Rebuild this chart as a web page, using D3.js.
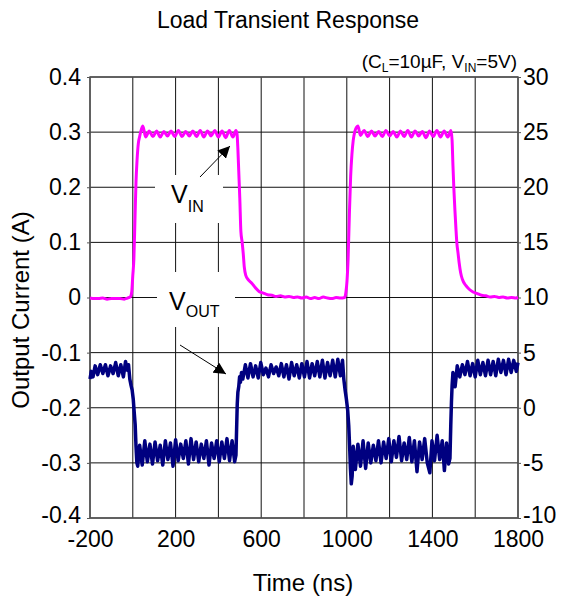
<!DOCTYPE html>
<html><head><meta charset="utf-8">
<script src="https://cdn.jsdelivr.net/npm/d3@7/dist/d3.min.js"></script>
<style>body{margin:0;background:#fff}svg{display:block}text{font-family:"Liberation Sans",Arial,sans-serif;fill:#000}</style>
</head><body><svg id="c" width="561" height="602"></svg>
<script>
const title = "Load Transient Response";
const xLabel = "Time (ns)";
const yLabel = "Output Current (A)";
const xTicks = [-200, 200, 600, 1000, 1400, 1800];
const xGrid = [-200, 0, 200, 400, 600, 800, 1000, 1200, 1400, 1600, 1800];
const yLeftTicks = [-0.4, -0.3, -0.2, -0.1, 0, 0.1, 0.2, 0.3, 0.4];
const yRightTicks = [-10, -5, 0, 5, 10, 15, 20, 25, 30];

// magenta trace, left axis units (A)
const vinTrace = [
[-200,-0.001],[-180,-0.002],[-160,-0.002],[-140,-0.001],[-120,-0.003],[-100,-0.002],[-80,-0.002],[-60,-0.002],[-40,-0.003],[-25,-0.001],[-12,0.001],
[-5,0.01],[0,0.04],[5,0.07],[10,0.14],[15,0.21],[20,0.25],[26,0.28],[32,0.292],[40,0.305],[47,0.311],
[60,0.291],[77,0.302],[94,0.292],[111,0.302],[128,0.291],[145,0.301],[162,0.293],[179,0.302],[196,0.292],[213,0.303],[230,0.292],[247,0.301],[264,0.293],[281,0.302],[298,0.292],[315,0.303],[332,0.291],[349,0.302],[366,0.293],[383,0.303],[400,0.291],[417,0.302],[434,0.290],[451,0.303],[468,0.291],[482,0.303],
[487,0.297],[491,0.27],[495,0.23],[500,0.18],[505,0.12],[511,0.1],[516,0.08],[521,0.055],[528,0.04],[540,0.032],[556,0.026],[572,0.018],[590,0.011],[610,0.008],[630,0.005],[650,0.004],[670,0.002],[690,0.003],[710,0.001],
[730,0.002],[750,0.000],[770,0.001],[790,-0.001],[810,0.001],[830,-0.002],[850,0.000],[870,-0.002],[890,0.001],[910,-0.001],[930,-0.002],[950,0.000],[970,-0.001],[990,0.000],
[996,0.01],[1001,0.03],[1006,0.07],[1012,0.15],[1018,0.22],[1024,0.26],[1030,0.285],[1038,0.302],[1046,0.309],[1052,0.311],
[1064,0.294],[1081,0.303],[1098,0.292],[1115,0.302],[1132,0.293],[1149,0.301],[1166,0.292],[1183,0.303],[1200,0.293],[1217,0.301],[1234,0.291],[1251,0.302],[1268,0.292],[1285,0.303],[1302,0.291],[1319,0.302],[1336,0.293],[1353,0.301],[1370,0.290],[1387,0.302],[1404,0.292],[1421,0.303],[1438,0.291],[1455,0.302],[1472,0.291],[1487,0.303],
[1492,0.285],[1496,0.24],[1500,0.2],[1505,0.16],[1510,0.125],[1514,0.1],[1520,0.08],[1525,0.063],[1532,0.045],[1540,0.033],[1556,0.022],[1572,0.015],[1590,0.01],[1610,0.007],[1630,0.004],[1650,0.003],[1670,0.001],[1690,0.002],[1710,0.000],[1730,0.001],[1750,-0.001],[1770,0.000],[1790,-0.001],[1800,0.000]
];

// navy trace, right axis units
const voutTrace = [
[-200,2.6],[-194,3.3],[-186,2.8],[-176,3.8],[-164,3.0],[-152,3.9],[-140,3.1],[-128,3.9],[-116,2.9],[-104,3.8],[-92,3.1],[-80,4.1],[-68,2.9],[-56,3.9],[-44,2.8],[-34,4.2],[-26,3.4],[-20,3.9],[-14,2.6],[-8,2.0],[-3,1.6],[2,0.8],[7,-0.5],[11,-1.5],[15,-3.5],[19,-5.0],[23,-5.3],
[32,-3.4],[44,-5.2],[56,-3.0],[68,-4.9],[80,-3.3],[92,-5.1],[104,-3.1],[116,-4.8],[128,-3.4],[140,-5.2],[152,-3.0],[164,-4.7],[176,-3.2],[188,-5.3],[200,-2.9],[212,-4.8],[224,-3.3],[236,-4.6],[248,-3.0],[260,-5.1],[272,-2.8],[284,-4.7],[296,-3.1],[308,-4.9],[320,-3.3],[332,-4.6],[344,-3.0],[356,-5.2],[368,-3.2],[380,-4.6],[392,-3.0],[404,-4.9],[416,-3.1],[428,-4.6],[440,-2.8],[452,-4.8],[464,-3.0],[476,-4.9],
[482,-4.3],[485,-2.0],[488,0.3],[491,1.4],[495,1.9],[499,2.8],[503,2.3],[508,3.2],
[514,2.6],[526,3.9],[538,2.7],[550,4.0],[562,2.8],[574,3.8],[586,2.7],[598,4.1],[610,3.0],[622,3.6],[634,2.8],[646,3.9],[658,3.1],[670,3.7],[682,2.9],[694,4.0],[706,2.8],[718,3.9],[730,2.6],[742,4.1],[754,2.9],[766,3.9],[778,2.7],[790,4.0],[802,2.8],[814,4.2],[826,2.7],[838,4.0],[850,2.9],[862,4.2],[874,2.8],[886,4.3],[898,2.7],[910,4.1],[922,2.9],[934,4.3],[946,2.8],[958,4.4],[970,2.9],[980,4.3],
[986,2.6],[992,1.6],[998,0.8],[1004,-0.2],[1009,-1.6],[1013,-3.4],[1017,-5.5],[1021,-6.9],[1025,-6.2],[1030,-3.5],
[1040,-5.6],[1052,-3.3],[1064,-5.3],[1076,-3.0],[1088,-5.5],[1100,-3.2],[1112,-5.0],[1124,-3.4],[1136,-4.8],[1148,-3.0],[1160,-5.0],[1172,-3.1],[1184,-4.6],[1196,-2.8],[1208,-4.9],[1220,-3.0],[1232,-4.5],[1244,-2.6],[1256,-4.8],[1268,-3.2],[1280,-4.7],[1292,-2.7],[1304,-4.9],[1316,-3.0],[1328,-5.8],[1340,-3.1],[1352,-4.7],[1364,-2.8],[1376,-5.0],[1388,-5.9],[1398,-3.0],[1410,-4.8],[1422,-2.5],[1434,-4.7],[1446,-3.0],[1456,-5.7],[1466,-3.2],[1476,-5.1],
[1482,-4.6],[1486,-1.5],[1489,0.5],[1492,2.0],[1496,3.2],[1501,2.6],[1506,1.9],[1511,2.8],[1516,3.8],
[1528,2.8],[1540,3.9],[1552,3.0],[1564,4.2],[1576,2.9],[1588,4.0],[1600,2.8],[1612,4.3],[1624,3.0],[1636,4.1],[1648,2.9],[1660,4.3],[1672,3.0],[1684,4.2],[1696,2.9],[1708,4.4],[1720,3.2],[1732,4.3],[1744,3.0],[1756,4.4],[1768,3.2],[1780,4.3],[1792,3.3],[1800,4.1]
];

const svg = d3.select("#c");
const L = 90, R = 518, T = 77, B = 518;
const x = d3.scaleLinear([-200, 1800], [L, R]);
const yL = d3.scaleLinear([-0.4, 0.4], [B, T]);
const yR = d3.scaleLinear([-10, 30], [B, T]);
const fmtL = d => d === 0 ? "0" : d3.format(".1f")(d).replace("\u2212", "-");
const fmtN = d => String(d);

// grid
const g = svg.append("g");
g.selectAll(".vg").data(xGrid).join("line").attr("x1", d => x(d)).attr("x2", d => x(d)).attr("y1", T).attr("y2", B).attr("stroke", "#111").attr("stroke-width", 1);
g.selectAll(".hg").data(yLeftTicks).join("line").attr("x1", L).attr("x2", R).attr("y1", d => yL(d)).attr("y2", d => yL(d)).attr("stroke", "#111").attr("stroke-width", 1);
svg.append("rect").attr("x", L).attr("y", T).attr("width", R - L).attr("height", B - T).attr("fill", "none").attr("stroke", "#555").attr("stroke-width", 1.5);

// white boxes behind annotation labels
svg.append("rect").attr("x", 155).attr("y", 175).attr("width", 68).attr("height", 48).attr("fill", "#fff");
svg.append("rect").attr("x", 157).attr("y", 272).attr("width", 78).attr("height", 55).attr("fill", "#fff");

// axes
const axL = svg.append("g").attr("transform", `translate(${L},0)`).call(d3.axisLeft(yL).tickValues(yLeftTicks).tickFormat(fmtL).tickSize(3).tickPadding(6));
const axR = svg.append("g").attr("transform", `translate(${R},0)`).call(d3.axisRight(yR).tickValues(yRightTicks).tickFormat(fmtN).tickSize(3).tickPadding(2));
const axB = svg.append("g").attr("transform", `translate(0,${B})`).call(d3.axisBottom(x).tickValues(xTicks).tickFormat(fmtN).tickSize(0).tickPadding(6));
[axL, axR, axB].forEach(a => {
  a.select(".domain").remove();
  a.selectAll("text").attr("font-size", 23).attr("font-family", "Liberation Sans, Arial, sans-serif").attr("fill", "#000");
  a.selectAll("line").attr("stroke", "#555");
});
axB.selectAll("text").attr("dy", "1.0em");
axR.selectAll("text").filter(d => d === -10).attr("dy", "0.2em");
axL.selectAll("text").filter(d => d === -0.4).attr("dy", "0.2em");

// traces
const lineL = d3.line().x(d => x(d[0])).y(d => yL(d[1])).curve(d3.curveMonotoneX);
const lineR = d3.line().x(d => x(d[0])).y(d => yR(d[1]));
svg.append("path").attr("d", lineL(vinTrace)).attr("fill", "none").attr("stroke", "#FF00FF").attr("stroke-width", 3).attr("stroke-linejoin", "round");
svg.append("path").attr("d", lineR(voutTrace)).attr("fill", "none").attr("stroke", "#000080").attr("stroke-width", 3.5).attr("stroke-linejoin", "round");

// annotations
svg.append("defs").append("marker").attr("id", "ah").attr("viewBox", "0 0 10 10").attr("refX", 10).attr("refY", 5)
  .attr("markerWidth", 12).attr("markerHeight", 12).attr("markerUnits", "userSpaceOnUse").attr("orient", "auto")
  .append("path").attr("d", "M0,0L10,5L0,10z").attr("fill", "#000");
svg.append("line").attr("x1", 200).attr("y1", 177).attr("x2", 230).attr("y2", 146).attr("stroke", "#000").attr("stroke-width", 1).attr("marker-end", "url(#ah)");
svg.append("line").attr("x1", 180).attr("y1", 345).attr("x2", 226).attr("y2", 374).attr("stroke", "#000").attr("stroke-width", 1).attr("marker-end", "url(#ah)");

const t1 = svg.append("text").attr("x", 171).attr("y", 203).attr("font-size", 25);
t1.append("tspan").text("V");
t1.append("tspan").attr("font-size", 16).attr("dy", 9).text("IN");
const t2 = svg.append("text").attr("x", 169).attr("y", 310).attr("font-size", 25);
t2.append("tspan").text("V");
t2.append("tspan").attr("font-size", 16).attr("dy", 7).text("OUT");

// title and subtitle
svg.append("text").attr("x", 288).attr("y", 28).attr("text-anchor", "middle").attr("font-size", 23).text(title);
const st = svg.append("text").attr("x", 517).attr("y", 68).attr("text-anchor", "end").attr("font-size", 19);
st.append("tspan").text("(C");
st.append("tspan").attr("font-size", 12).attr("dy", 4).text("L");
st.append("tspan").attr("dy", -4).text("=10\u00B5F, V");
st.append("tspan").attr("font-size", 12).attr("dy", 4).text("IN");
st.append("tspan").attr("dy", -4).text("=5V)");

// axis labels
svg.append("text").attr("x", 303).attr("y", 591).attr("text-anchor", "middle").attr("font-size", 24).text(xLabel);
svg.append("text").attr("transform", "translate(29,310) rotate(-90)").attr("text-anchor", "middle").attr("font-size", 24).text(yLabel);
</script></body></html>
